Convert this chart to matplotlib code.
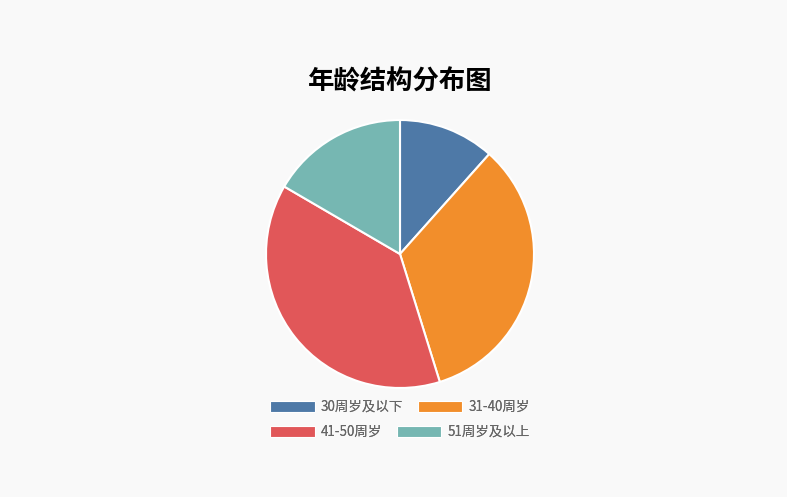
import matplotlib as mpl
import matplotlib.pyplot as plt
from matplotlib.patches import Rectangle

mpl.rcParams['font.family'] = ['Noto Sans CJK SC', 'DejaVu Sans']

labels = ["30周岁及以下", "31-40周岁", "41-50周岁", "51周岁及以上"]
values = [11.6, 33.6, 38.2, 16.6]
colors = ["#4e79a7", "#f28e2b", "#e15759", "#76b7b2"]

W, H = 787, 497
fig = plt.figure(figsize=(W / 100, H / 100), dpi=100)
fig.patch.set_facecolor("#f9f9f9")

# pie centre ~ (400, 254) px, radius ~134 px
cx, cy, r = 400, 254, 134
ax = fig.add_axes([(cx - r) / W, (H - cy - r) / H, 2 * r / W, 2 * r / H])
ax.pie(values, colors=colors, startangle=90, counterclock=False,
       wedgeprops=dict(edgecolor="white", linewidth=1.5))
ax.set_xlim(-1, 1)
ax.set_ylim(-1, 1)
ax.axis("off")

fig.text(400 / W, 1 - 82 / H, "年龄结构分布图", ha="center", va="center",
         fontsize=19, fontweight="bold", color="black")

handles = [Rectangle((0, 0), 1, 1, facecolor=c, edgecolor="white", linewidth=0.8)
           for c in colors]

# legend rows are centred individually
for row, ypix in [(0, 407), (1, 432)]:
    hs = handles[row * 2:row * 2 + 2]
    ls = labels[row * 2:row * 2 + 2]
    leg = fig.legend(hs, ls, loc="center", bbox_to_anchor=(400 / W, 1 - ypix / H),
                     ncol=2, frameon=False, fontsize=9.7, handlelength=3.3,
                     handleheight=0.85, handletextpad=0.45, columnspacing=1.1,
                     borderpad=0, labelcolor="#666666")
    fig.add_artist(leg)

fig.savefig("out.png", dpi=100, facecolor=fig.get_facecolor())
